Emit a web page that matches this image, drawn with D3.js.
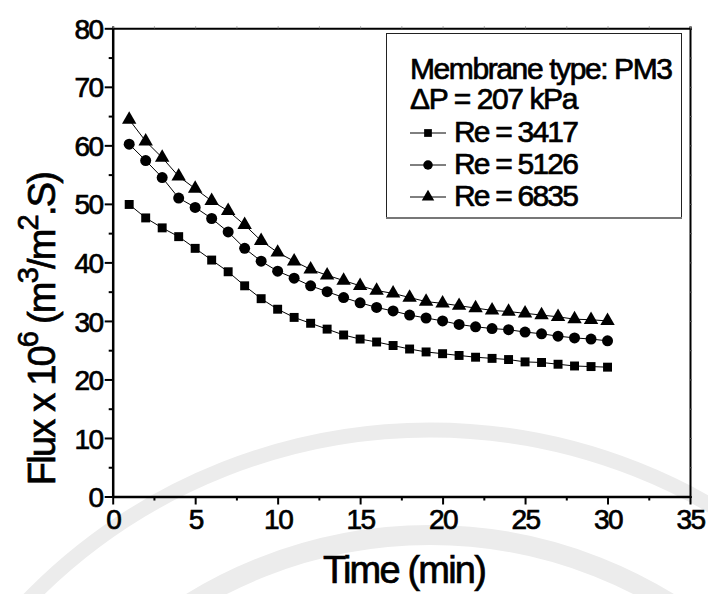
<!DOCTYPE html>
<html lang="en">
<head>
    <meta charset="UTF-8">
    <title>Flux vs time</title>
    <script src="https://cdn.jsdelivr.net/npm/d3@7"></script>
    <style>
        body { margin: 0; background: #fff; }
        svg { display: block; }
        text { font-family: "Liberation Sans", Arial, sans-serif; fill: #000; stroke: #000; stroke-width: 0.7px; }
    </style>
</head>
<body>
    <svg width="708" height="594" id="mainsvg"></svg>
    <script>
        // data
        const time = [1,2,3,4,5,6,7,8,9,10,11,12,13,14,15,16,17,18,19,20,21,22,23,24,25,26,27,28,29,30]
        const re3417 = [49.9,47.6,45.9,44.4,42.4,40.4,38.4,36.0,33.8,32.0,30.6,29.6,28.6,27.6,26.9,26.4,25.8,25.2,24.7,24.4,24.1,23.8,23.6,23.4,23.0,22.9,22.6,22.3,22.2,22.1]
        const re5126 = [60.2,57.4,54.5,51.0,49.4,47.5,45.2,42.4,40.2,38.5,37.3,36.0,35.0,34.0,33.1,32.3,31.7,31.0,30.5,30.0,29.4,29.0,28.7,28.5,28.1,27.8,27.4,27.1,26.9,26.6]
        const re6835 = [64.4,60.7,57.9,54.7,52.6,50.5,48.8,46.4,43.7,41.7,40.2,38.8,37.8,36.9,36.0,35.2,34.7,34.0,33.3,33.0,32.6,32.2,31.8,31.6,31.3,31.0,30.7,30.3,30.2,30.0]
        const seriesNames = ['Re = 3417', 'Re = 5126', 'Re = 6835']
        const xTicks = [0,5,10,15,20,25,30,35]
        const xMinor = [2.5,7.5,12.5,17.5,22.5,27.5,32.5]
        const yTicks = [0,10,20,30,40,50,60,70,80]
        const yMinor = [5,15,25,35,45,55,65,75]
        const legendTitle = ['Membrane type: PM3', '\u0394P = 207 kPa']

        const svg = d3.select('#mainsvg')
        const plotL = 112.7, plotR = 690, plotT = 28.3, plotB = 496.5

        // faint watermark arcs in the background
        const wm = svg.append('g').attr('fill', 'none').attr('stroke', '#ececec')
        wm.append('circle').attr('cx', 430).attr('cy', 990).attr('r', 560).attr('stroke-width', 15)
        wm.append('circle').attr('cx', 430).attr('cy', 990).attr('r', 455).attr('stroke-width', 20)

        const xScale = d3.scaleLinear().domain([0, 35]).range([plotL, plotR])
        const yScale = d3.scaleLinear().domain([0, 80]).range([plotB, plotT])

        // frame (top / right mirror axes)
        svg.append('g').attr('transform', `translate(0,${plotT})`)
            .call(d3.axisTop(xScale).tickValues(xTicks.concat(xMinor)).tickSize(2).tickFormat(''))
            .call(g => g.select('.domain').attr('stroke-width', 2).attr('stroke', '#000'))
            .call(g => g.selectAll('.tick line').attr('stroke', '#999'))
        svg.append('g').attr('transform', `translate(${plotR},0)`)
            .call(d3.axisRight(yScale).tickValues(yTicks.concat(yMinor)).tickSize(2).tickFormat(''))
            .call(g => g.select('.domain').attr('stroke-width', 2).attr('stroke', '#000'))
            .call(g => g.selectAll('.tick line').attr('stroke', '#555'))

        // minor ticks
        svg.append('g').attr('transform', `translate(0,${plotB})`)
            .call(d3.axisBottom(xScale).tickValues(xMinor).tickSize(4).tickFormat(''))
            .call(g => g.select('.domain').remove())
            .call(g => g.selectAll('.tick line').attr('stroke-width', 2))
        svg.append('g').attr('transform', `translate(${plotL},0)`)
            .call(d3.axisLeft(yScale).tickValues(yMinor).tickSize(4).tickFormat(''))
            .call(g => g.select('.domain').remove())
            .call(g => g.selectAll('.tick line').attr('stroke-width', 2))

        // main axes
        const xAxisG = svg.append('g').attr('transform', `translate(0,${plotB})`)
            .call(d3.axisBottom(xScale).tickValues(xTicks).tickSize(8).tickSizeOuter(0).tickPadding(3))
        const yAxisG = svg.append('g').attr('transform', `translate(${plotL},0)`)
            .call(d3.axisLeft(yScale).tickValues(yTicks).tickSize(8).tickSizeOuter(0).tickPadding(2))
        ;[xAxisG, yAxisG].forEach(g => {
            g.select('.domain').attr('stroke-width', 2.5).attr('stroke', '#000')
            g.selectAll('.tick line').attr('stroke-width', 2).attr('stroke', '#000')
            g.selectAll('.tick text').attr('font-size', 28).attr('letter-spacing', -1.5)
                .attr('font-family', '"Liberation Sans", Arial, sans-serif').attr('fill', '#000')
        })
        xAxisG.selectAll('.tick text').attr('dy', '0.78em')
        yAxisG.selectAll('.tick text').attr('dy', '0.36em')

        // series
        const series = [
            {name: seriesNames[0], values: re3417, symbol: d3.symbolSquare, size: 80},
            {name: seriesNames[1], values: re5126, symbol: d3.symbolCircle, size: 95},
            {name: seriesNames[2], values: re6835, symbol: d3.symbolTriangle, size: 90}
        ]
        const line = d3.line().x((d, i) => xScale(time[i])).y(d => yScale(d))

        series.forEach(s => {
            svg.append('path').datum(s.values)
                .attr('d', line).attr('fill', 'none').attr('stroke', '#000').attr('stroke-width', 1)
            svg.append('g').selectAll('path').data(s.values).join('path')
                .attr('transform', (d, i) => `translate(${xScale(time[i])},${yScale(d)})`)
                .attr('d', d3.symbol().type(s.symbol).size(s.size))
                .attr('fill', '#000')
        })

        // legend
        const lg = svg.append('g')
        lg.append('rect').attr('x', 386.5).attr('y', 33.5).attr('width', 295).attr('height', 184)
            .attr('fill', '#fff').attr('stroke', '#222').attr('stroke-width', 1)
        lg.append('line').attr('x1', 386).attr('x2', 682).attr('y1', 218).attr('y2', 218)
            .attr('stroke', '#777').attr('stroke-width', 2)
        const rowY = [79, 109, 142, 174, 206]
        legendTitle.forEach((t, i) => {
            lg.append('text').attr('x', 410).attr('y', rowY[i]).attr('font-size', 30)
                .attr('letter-spacing', -1.4).text(t)
        })
        series.forEach((s, i) => {
            const y = rowY[i + 2] - 9
            lg.append('line').attr('x1', 410).attr('x2', 446).attr('y1', y).attr('y2', y)
                .attr('stroke', '#000').attr('stroke-width', 1)
            lg.append('path').attr('transform', `translate(428,${y})`)
                .attr('d', d3.symbol().type(s.symbol).size(s.size * 0.75)).attr('fill', '#000')
            lg.append('text').attr('x', 454).attr('y', rowY[i + 2]).attr('font-size', 30)
                .attr('letter-spacing', -1.8).text(s.name)
        })

        // axis titles
        svg.append('text').attr('x', 404).attr('y', 583).attr('text-anchor', 'middle')
            .attr('font-size', 38).attr('letter-spacing', -1.8).text('Time (min)')

        const yl = svg.append('text').attr('transform', 'translate(55,329) rotate(-90)')
            .attr('text-anchor', 'middle').attr('font-size', 38).attr('letter-spacing', -1.8)
        yl.append('tspan').text('Flux x 10')
        yl.append('tspan').attr('dy', -17).attr('font-size', 29).text('6')
        yl.append('tspan').attr('dy', 17).text(' (m')
        yl.append('tspan').attr('dy', -17).attr('font-size', 29).text('3')
        yl.append('tspan').attr('dy', 17).text('/m')
        yl.append('tspan').attr('dy', -17).attr('font-size', 29).text('2')
        yl.append('tspan').attr('dy', 17).text('.S)')
    </script>
</body>
</html>
